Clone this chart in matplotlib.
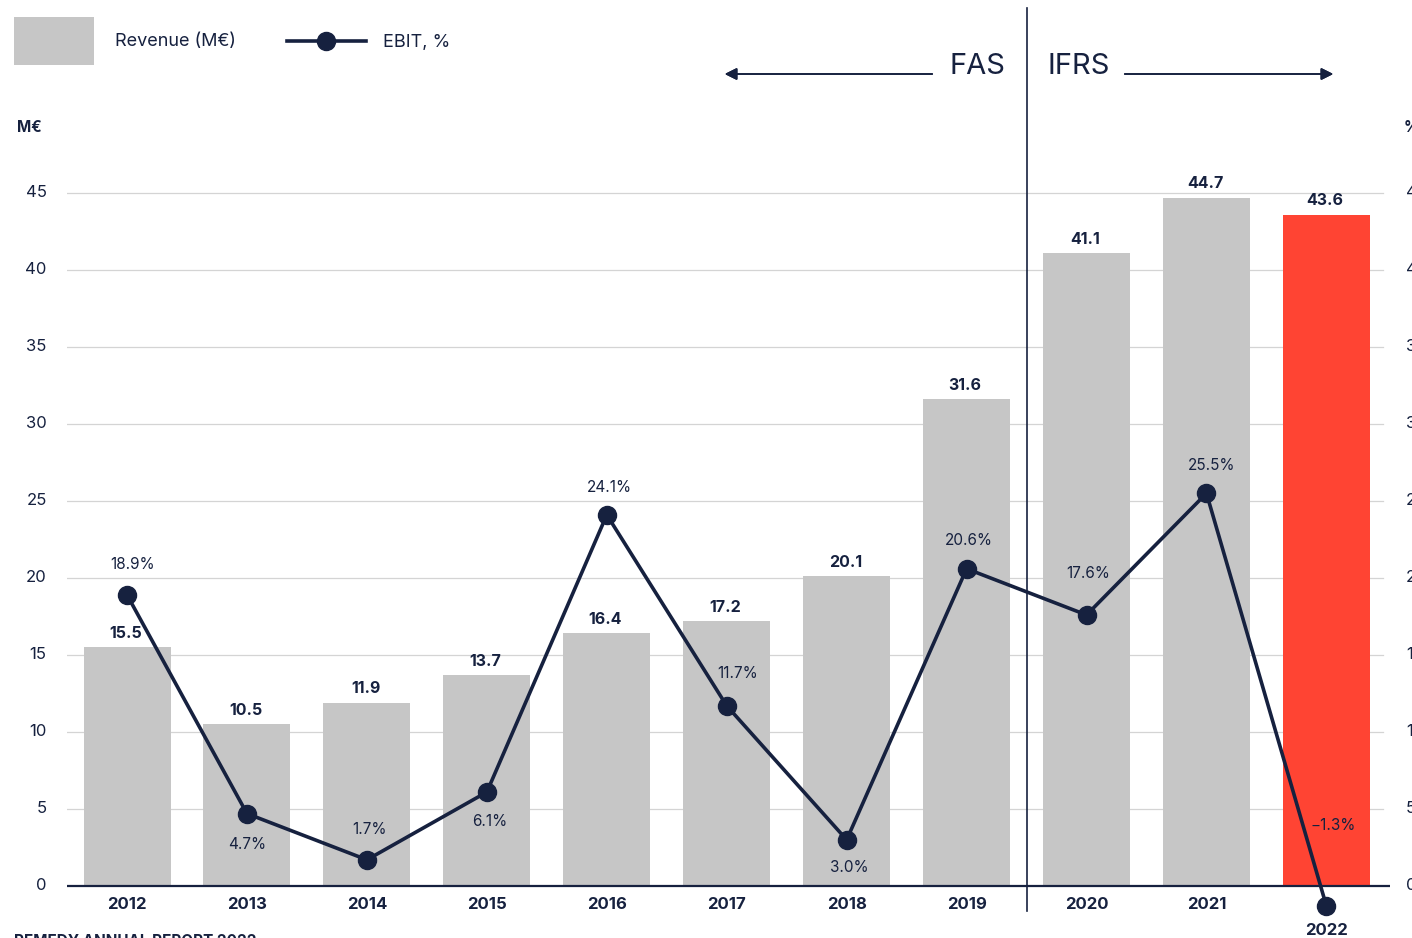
import matplotlib.pyplot as plt
from matplotlib.lines import Line2D
from matplotlib.patches import Rectangle

plt.rcParams['font.family'] = ['Inter', 'DejaVu Sans']

years = ['2012', '2013', '2014', '2015', '2016', '2017', '2018', '2019', '2020', '2021', '2022']
revenue = [15.5, 10.5, 11.9, 13.7, 16.4, 17.2, 20.1, 31.6, 41.1, 44.7, 43.6]
ebit = [18.9, 4.7, 1.7, 6.1, 24.1, 11.7, 3.0, 20.6, 17.6, 25.5, -1.3]
# label placement for EBIT values (offset in points: dx, dy)
ebit_offsets = [(4, 22), (0, -22), (2, 22), (2, -21), (2, 20), (8, 23), (2, -20), (2, 20), (1, 30), (4, 20), (5, 58)]
yticks = [0, 5, 10, 15, 20, 25, 30, 35, 40, 45]

navy = '#16213f'
grey = '#c6c6c6'
red = '#ff4433'
grid = '#d4d4d4'

fig = plt.figure(figsize=(14.12, 9.38), dpi=100)
ax = fig.add_axes([0.0475, 0.0062, 0.9369, 0.8373])
ax.set_xlim(-0.5, 10.53)
ax.set_ylim(-3, 48)

x = list(range(len(years)))
colors = [grey] * (len(years) - 1) + [red]
ax.bar(x, revenue, width=0.725, color=colors, zorder=2)

for t in yticks[1:]:
    ax.axhline(t, color=grid, lw=0.9, zorder=1, xmax=0.995)
ax.axhline(0, color=navy, lw=1.6, zorder=3)

ax.plot(x, ebit, color=navy, lw=2.6, marker='o', markersize=13, zorder=4)

for xi, v in zip(x, revenue):
    ax.annotate(f'{v:.1f}', (xi, v), xytext=(-1, 10), textcoords='offset points',
                ha='center', va='center', fontsize=11.5, fontweight='bold', color=navy, zorder=5)

for xi, v, (dx, dy) in zip(x, ebit, ebit_offsets):
    lab = f'{v:.1f}%'.replace('-', '\u2212')
    ax.annotate(lab, (xi, v), xytext=(dx, dy), textcoords='offset points',
                ha='center', va='center', fontsize=11, color=navy, zorder=5)

for xi, y in zip(x, years):
    yy = -1.2 if y != '2022' else -2.9
    ax.text(xi, yy, y, ha='center', va='center', fontsize=12, fontweight='bold', color=navy)

for sp in ax.spines.values():
    sp.set_visible(False)
ax.set_xticks([])
ax.set_yticks([])

for t in yticks:
    ax.text(-0.67, t, str(t), ha='right', va='center', fontsize=12, color=navy)
    ax.text(10.665, t, str(t), ha='left', va='center', fontsize=12, color=navy)

# FAS / IFRS divider
ax.plot([7.5, 7.5], [-1.6, 57.0], color=navy, lw=1.2, clip_on=False, zorder=6)
fig.text(1005 / 1412, 1 - 66 / 938, 'FAS', ha='right', va='center', fontsize=21, color=navy)
fig.text(1047 / 1412, 1 - 66 / 938, 'IFRS', ha='left', va='center', fontsize=21, color=navy)
fig.add_artist(plt.annotate('', xy=(722 / 1412, 1 - 74 / 938), xytext=(935 / 1412, 1 - 74 / 938),
                            xycoords='figure fraction', textcoords='figure fraction',
                            arrowprops=dict(arrowstyle='-|>', color=navy, lw=1.2, mutation_scale=18)))
fig.add_artist(plt.annotate('', xy=(1336 / 1412, 1 - 74 / 938), xytext=(1122 / 1412, 1 - 74 / 938),
                            xycoords='figure fraction', textcoords='figure fraction',
                            arrowprops=dict(arrowstyle='-|>', color=navy, lw=1.2, mutation_scale=18)))

# axis unit labels
fig.text(17 / 1412, 1 - 127 / 938, 'M€', ha='left', va='center', fontsize=11, fontweight='bold', color=navy)
fig.text(1404 / 1412, 1 - 127 / 938, '%', ha='left', va='center', fontsize=11, fontweight='bold', color=navy)

# legend
fig.add_artist(Rectangle((14 / 1412, 1 - 65 / 938), 80 / 1412, 48 / 938, transform=fig.transFigure,
                         facecolor=grey, edgecolor='none'))
fig.text(115 / 1412, 1 - 42 / 938, 'Revenue (M€)', ha='left', va='center', fontsize=13, color=navy)
fig.add_artist(Line2D([287 / 1412, 366 / 1412], [1 - 41 / 938, 1 - 41 / 938], transform=fig.transFigure,
                      color=navy, lw=2.6, zorder=5))
fig.add_artist(Line2D([326 / 1412], [1 - 41 / 938], transform=fig.transFigure,
                      color=navy, marker='o', markersize=13, linestyle='none'))
fig.text(383 / 1412, 1 - 42 / 938, 'EBIT, %', ha='left', va='center', fontsize=13, color=navy)

# page footer (cut off at the bottom edge)
fig.text(14 / 1412, 1 - 934 / 938, 'REMEDY ANNUAL REPORT 2022', ha='left', va='top',
         fontsize=11, fontweight='bold', color=navy)

fig.savefig('out.png', dpi=100)
